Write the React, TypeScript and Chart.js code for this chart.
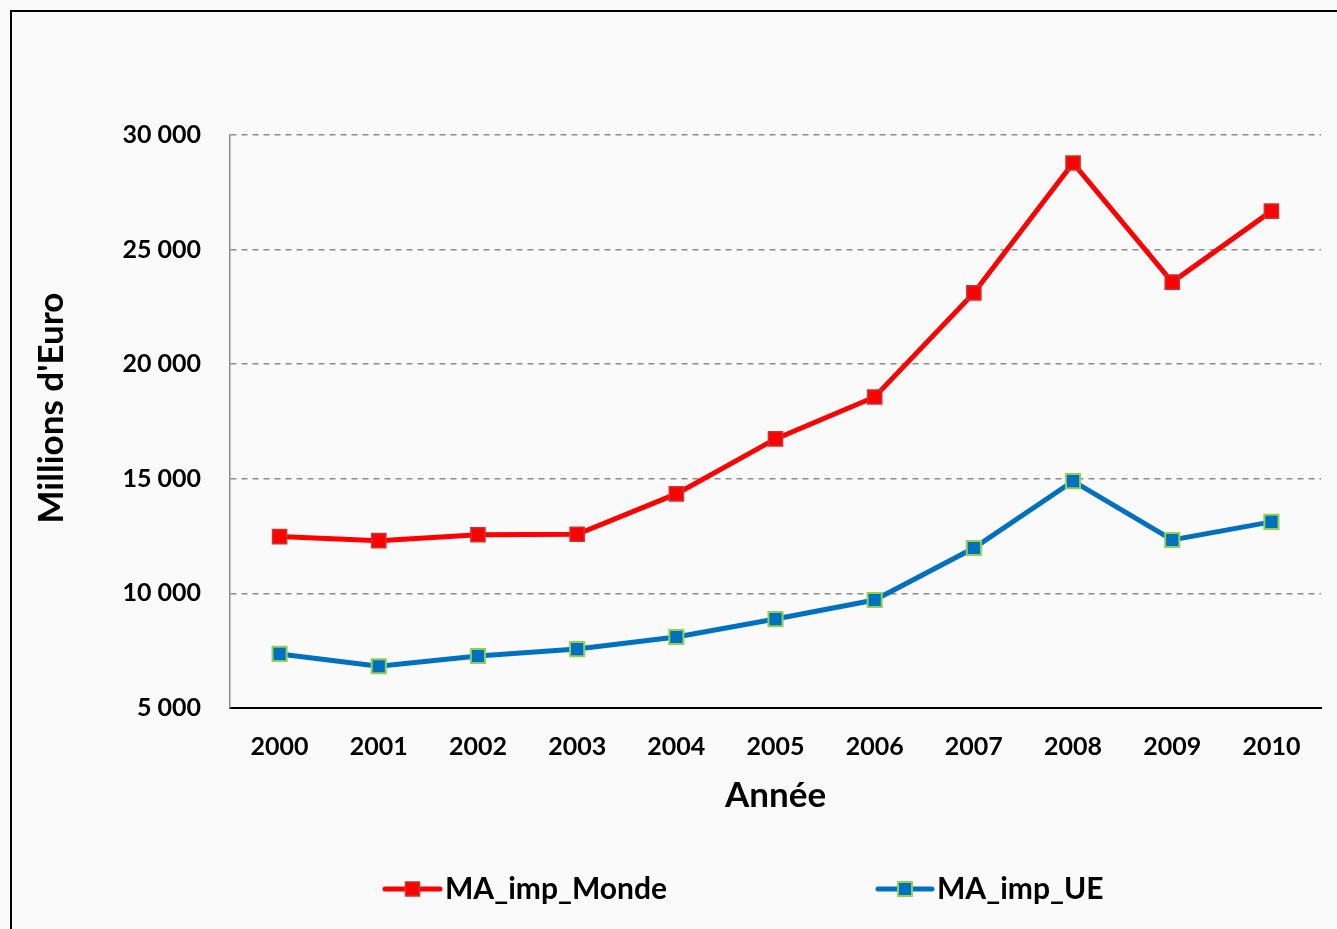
import React, { useEffect, useRef } from "react";
import { Chart, registerables } from "chart.js";

Chart.register(...registerables);

const years = ["2000", "2001", "2002", "2003", "2004", "2005", "2006", "2007", "2008", "2009", "2010"];
const monde = [12480, 12300, 12560, 12580, 14340, 16740, 18570, 23110, 28780, 23580, 26680];
const ue = [7360, 6820, 7270, 7570, 8100, 8880, 9710, 11980, 14900, 12330, 13120];
const seriesLabels = ["MA_imp_Monde", "MA_imp_UE"];
const yTitle = "Millions d'Euro";
const xTitle = "Année";

const FONT = "Lato, 'Open Sans', sans-serif";

const fmt = (v: number) => String(v).replace(/\B(?=(\d{3})+(?!\d))/g, " ");

const customPlugin = {
  id: "customDecor",
  afterDraw(chart: any) {
    const ctx = chart.ctx;
    // y title
    ctx.save();
    ctx.translate(52, 408);
    ctx.rotate(-Math.PI / 2);
    ctx.font = `bold 35px ${FONT}`;
    ctx.fillStyle = "#000";
    ctx.textAlign = "center";
    ctx.textBaseline = "middle";
    ctx.fillText(yTitle, 0, 0);
    ctx.restore();
    // legend
    const items = [
      { x1: 385, x2: 440, y: 889 },
      { x1: 878, x2: 932, y: 889 },
    ];
    chart.data.datasets.forEach((ds: any, i: number) => {
      const it = items[i];
      ctx.save();
      ctx.strokeStyle = ds.borderColor;
      ctx.lineWidth = ds.borderWidth;
      ctx.lineCap = "round";
      ctx.beginPath();
      ctx.moveTo(it.x1, it.y);
      ctx.lineTo(it.x2, it.y);
      ctx.stroke();
      const cx = (it.x1 + it.x2) / 2;
      const s = 14;
      ctx.fillStyle = ds.pointBackgroundColor;
      ctx.fillRect(cx - s / 2, it.y - s / 2, s, s);
      ctx.lineWidth = ds.pointBorderWidth;
      ctx.strokeStyle = ds.pointBorderColor;
      ctx.strokeRect(cx - s / 2, it.y - s / 2, s, s);
      ctx.font = `bold 30px ${FONT}`;
      ctx.fillStyle = "#000";
      ctx.textAlign = "left";
      ctx.textBaseline = "middle";
      ctx.fillText(ds.label, it.x2 + 5, it.y);
      ctx.restore();
    });
  },
};

export default function App() {
  const ref = useRef<HTMLCanvasElement>(null);
  useEffect(() => {
    if (!ref.current) return;
    const chart = new Chart(ref.current, {
      type: "line",
      data: {
        labels: years,
        datasets: [
          {
            label: seriesLabels[0],
            data: monde,
            borderColor: "#ff0000",
            borderWidth: 5,
            pointStyle: "rect",
            pointRadius: 10,
            pointBackgroundColor: "#ff0000",
            pointBorderColor: "#cc3333",
            pointBorderWidth: 1.5,
            tension: 0,
          },
          {
            label: seriesLabels[1],
            data: ue,
            borderColor: "#0070c0",
            borderWidth: 5,
            pointStyle: "rect",
            pointRadius: 10,
            pointBackgroundColor: "#0070c0",
            pointBorderColor: "#92d050",
            pointBorderWidth: 2,
            tension: 0,
          },
        ],
      },
      options: {
        responsive: false,
        animation: false,
        devicePixelRatio: 1,
        layout: { padding: { top: 135, right: 16, bottom: 111, left: 0 } },
        plugins: { legend: { display: false }, tooltip: { enabled: false } },
        scales: {
          x: {
            offset: true,
            grid: { display: false, drawTicks: false },
            border: { color: "#000", width: 2 },
            ticks: { color: "#000", font: { family: FONT, size: 25, weight: "bold" }, padding: 24 },
            title: {
              display: true,
              text: xTitle,
              color: "#000",
              font: { family: FONT, size: 35, weight: "bold" },
              padding: { top: 0, bottom: 1 },
            },
            afterFit: (s: any) => {
              s.height = 110;
            },
          },
          y: {
            min: 5000,
            max: 30000,
            ticks: {
              stepSize: 5000,
              color: "#000",
              font: { family: FONT, size: 25, weight: "bold" },
              padding: 29,
              callback: (v: any) => fmt(Number(v)),
            },
            grid: {
              drawTicks: false,
              color: (c: any) => (c.tick && c.tick.value === 5000 ? "rgba(0,0,0,0)" : "#8c8c8c"),
              lineWidth: 1.5,
            },
            border: { color: "#8c8c8c", width: 1.5, dash: [6, 5] },
            afterFit: (s: any) => {
              s.width = 230;
            },
          },
        },
      },
      plugins: [customPlugin],
    });
    return () => chart.destroy();
  }, []);
  return (
    <div
      style={{
        position: "fixed",
        left: 0,
        top: 0,
        width: 1337,
        height: 929,
        overflow: "hidden",
        background: "#fafafa",
      }}
    >
      <div
        style={{
          position: "absolute",
          left: 10,
          top: 10,
          width: 2000,
          height: 2000,
          border: "2px solid #000",
        }}
      />
      <canvas ref={ref} width={1337} height={929} style={{ position: "absolute", left: 0, top: 0 }} />
    </div>
  );
}
